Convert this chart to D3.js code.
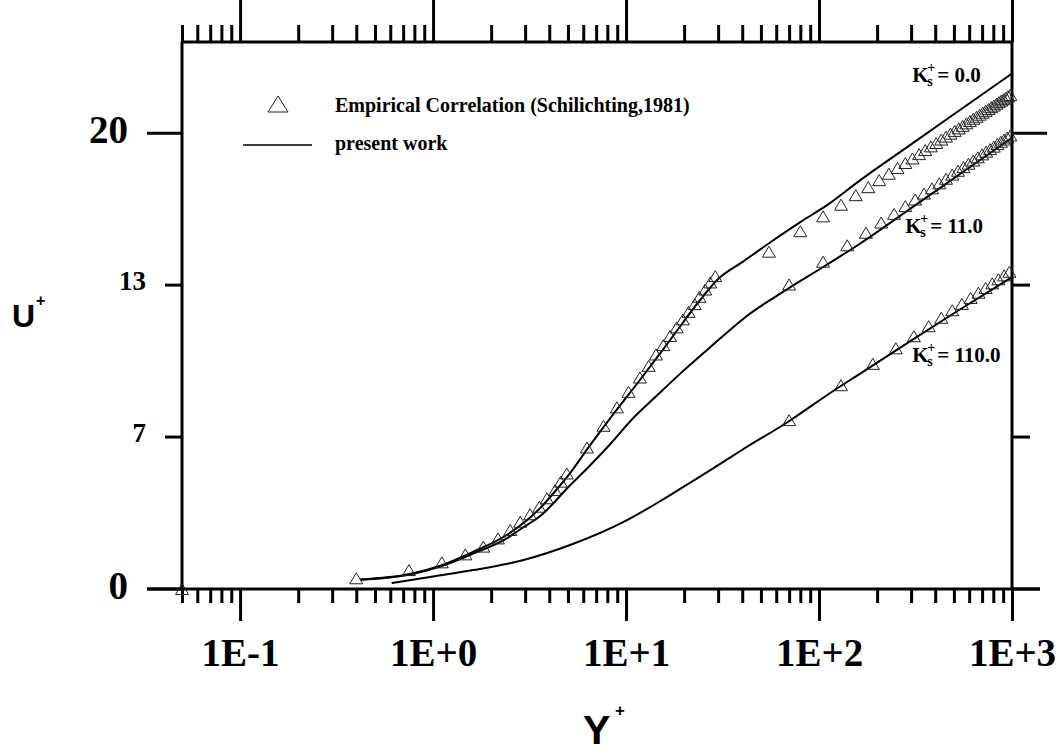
<!DOCTYPE html>
<meta charset="utf-8">
<style>
    body { margin: 0; background: #fff; }
    svg { display: block; }
    .tick line, .frame { stroke: #000; stroke-width: 3px; }
    .num { font-family: "Liberation Serif", "Times New Roman", serif; font-weight: bold; fill: #000; }
    .sans { font-family: "Liberation Sans", Arial, sans-serif; font-weight: bold; fill: #000; }
    .curve { fill: none; stroke: #000; stroke-width: 2px; }
    .tri { fill: none; stroke: #222; stroke-width: 1px; }
</style>
<svg width="1061" height="753"></svg>
<script src="https://d3js.org/d3.v7.min.js"></script>
<script>

    // ---- data ----
    var xMajor = [0.1, 1, 10, 100, 1000],
        xMajorLabels = ["1E-1", "1E+0", "1E+1", "1E+2", "1E+3"];
    var yTicks = [0, 20 / 3, 40 / 3, 20],
        yTickLabels = ["0", "7", "13", "20"];

    // empirical correlation (triangles)
    var empK0_y = [0.05, 0.4, 0.75, 1.11, 1.47, 1.82, 2.17, 2.51, 2.83, 3.18, 3.55, 3.89, 4.29, 4.59, 4.93,
        6.27, 7.64, 8.96, 10.3, 11.8, 13.1, 14.3, 15.6, 16.9, 18.3, 19.7, 21.1, 22.7, 24.0, 25.7, 27.3, 29.0,
        55, 80, 105, 130, 155, 180, 205, 230, 255, 280, 305, 330, 355, 380, 405, 430, 455, 480, 505, 530,
        555, 580, 605, 630, 655, 680, 705, 730, 755, 780, 805, 830, 855, 880, 905, 930, 955, 980];
    var empK0_u = [0, 0.47, 0.83, 1.17, 1.52, 1.86, 2.22, 2.59, 2.95, 3.28, 3.61, 3.98, 4.34, 4.71, 5.07,
        6.21, 7.16, 7.97, 8.65, 9.28, 9.79, 10.29, 10.70, 11.10, 11.48, 11.83, 12.16, 12.5, 12.82, 13.14, 13.45, 13.73,
        14.80, 15.70, 16.35, 16.86, 17.28, 17.63, 17.94, 18.22, 18.47, 18.69, 18.89, 19.08, 19.26, 19.42, 19.57, 19.72,
        19.85, 19.98, 20.10, 20.21, 20.32, 20.43, 20.53, 20.63, 20.72, 20.81, 20.90, 20.98, 21.06, 21.14, 21.21, 21.29,
        21.36, 21.43, 21.49, 21.56, 21.62, 21.68];

    var empK11_y = [70, 105, 140, 175, 210, 245, 280, 315, 350, 385, 420, 455, 490, 525, 560, 595, 630, 665,
        700, 735, 770, 805, 840, 875, 910, 945, 980];
    var empK11_u = [13.36, 14.36, 15.08, 15.63, 16.08, 16.46, 16.80, 17.09, 17.35, 17.58, 17.80, 18.00, 18.18,
        18.35, 18.51, 18.66, 18.80, 18.94, 19.07, 19.19, 19.30, 19.41, 19.52, 19.62, 19.72, 19.81, 19.90];

    var empK110_y = [70, 130, 190, 250, 310, 370, 430, 490, 550, 610, 670, 730, 790, 850, 910, 970];
    var empK110_u = [7.41, 8.94, 9.88, 10.56, 11.09, 11.53, 11.90, 12.23, 12.51, 12.77, 13.00, 13.21, 13.41,
        13.59, 13.76, 13.92];

    // present work (solid lines)
    var pwK0_y = [0.42, 0.76, 1.09, 1.62, 2.41, 3.59, 4.3, 5.2, 6.5, 8.27, 11.8, 16.9, 24.2, 30, 40, 54.8, 80, 110,
        163.6, 300, 500, 1000];
    var pwK0_u = [0.42, 0.66, 1.02, 1.64, 2.37, 3.55, 4.3, 5.15, 6.3, 7.49, 9.17, 10.92, 12.68, 13.6, 14.34, 15.16,
        16.1, 16.84, 17.94, 19.51, 20.83, 22.62];

    var pwK11_y = [0.42, 0.76, 1.09, 1.62, 2.41, 2.83, 3.59, 5.13, 6.39, 8.27, 10.9, 14.5, 19.1, 25.2, 30.8,
        42.3, 69.5, 105.6, 163.6, 300, 500, 1000];
    var pwK11_u = [0.41, 0.64, 0.99, 1.56, 2.22, 2.62, 3.2, 4.55, 5.35, 6.35, 7.5, 8.5, 9.45, 10.35, 11.0,
        11.98, 13.19, 14.14, 15.16, 16.71, 18.02, 19.8];

    var pwK110_y = [0.61, 1.0, 1.62, 2.94, 5.13, 10, 15, 20, 28.4, 39.9, 69.5, 119, 163.6, 300, 500, 1000];
    var pwK110_u = [0.26, 0.55, 0.83, 1.27, 1.93, 3.0, 3.85, 4.5, 5.3, 6.1, 7.35, 8.7, 9.45, 10.9, 12.1, 13.68];

    var ksLabels = ["0.0", "11.0", "110.0"],
        ksLabelAt = [[304, 22.24], [280, 15.63], [304, 9.96]];

    // ---- layout ----
    var svg = d3.select("svg");
    var x = d3.scaleLog().domain([0.05, 1000]).range([182, 1012]),
        y = d3.scaleLinear().domain([0, 24]).range([589, 42]);

    var xMinor = x.ticks().filter(function(v) { return xMajor.indexOf(v) < 0; });

    function zip(a, b) { return a.map(function(v, i) { return [v, b[i]]; }); }

    // frame
    svg.append("line").attr("class", "frame").attr("x1", x.range()[0]).attr("x2", x.range()[1])
        .attr("y1", y(24)).attr("y2", y(24));
    svg.append("line").attr("class", "frame").attr("x1", x.range()[0]).attr("x2", x.range()[0])
        .attr("y1", y(24)).attr("y2", y(0));
    svg.append("line").attr("class", "frame").attr("x1", x.range()[1]).attr("x2", x.range()[1])
        .attr("y1", y(24)).attr("y2", y(0));
    svg.append("line").attr("class", "frame").attr("x1", 147).attr("x2", 1040)
        .attr("y1", y(0)).attr("y2", y(0));

    // bottom axis
    svg.append("g").attr("transform", "translate(0," + y(0) + ")")
        .call(d3.axisBottom(x).tickValues(xMinor).tickSize(14).tickFormat(""));
    var bottomMajor = svg.append("g").attr("transform", "translate(0," + y(0) + ")")
        .call(d3.axisBottom(x).tickValues(xMajor).tickSize(32).tickPadding(17)
            .tickFormat(function(d, i) { return xMajorLabels[i]; }));
    bottomMajor.selectAll("text").attr("class", "num").style("font-size", "39px");

    // top axis
    svg.append("g").attr("transform", "translate(0," + y(24) + ")")
        .call(d3.axisTop(x).tickValues(xMinor).tickSize(17).tickFormat(""));
    svg.append("g").attr("transform", "translate(0," + y(24) + ")")
        .call(d3.axisTop(x).tickValues(xMajor).tickSize(44).tickFormat(""));

    svg.selectAll(".domain").remove();

    // left / right axes
    var yt = svg.append("g");
    yTicks.forEach(function(v, i) {
        var big = (i === 0 || i === 3);
        var len = big ? 35 : 17;
        yt.append("line").attr("class", "frame")
            .attr("x1", x.range()[0] - len).attr("x2", x.range()[0]).attr("y1", y(v)).attr("y2", y(v));
        yt.append("line").attr("class", "frame")
            .attr("x1", x.range()[1]).attr("x2", x.range()[1] + (big ? (i === 0 ? 28 : 35) : 18))
            .attr("y1", y(v)).attr("y2", y(v));
        yt.append("text").attr("class", "num")
            .attr("x", x.range()[0] - len - 19)
            .attr("y", y(v) - 4)
            .attr("text-anchor", "end")
            .attr("dominant-baseline", "central")
            .style("font-size", big ? "39px" : "27px")
            .text(yTickLabels[i]);
    });

    // axis titles
    svg.append("text").attr("class", "sans").attr("x", 12).attr("y", 327).style("font-size", "32px").text("U");
    svg.append("text").attr("class", "sans").attr("x", 36).attr("y", 306).style("font-size", "16px").text("+");
    svg.append("text").attr("class", "sans").attr("x", 583).attr("y", 744).style("font-size", "41px").text("Y");
    svg.append("text").attr("class", "sans").attr("x", 615).attr("y", 716).style("font-size", "17px").text("+");

    // curves
    var line = d3.line()
        .x(function(d) { return x(d[0]); })
        .y(function(d) { return y(d[1]); })
        .curve(d3.curveMonotoneX);

    [zip(pwK0_y, pwK0_u), zip(pwK11_y, pwK11_u), zip(pwK110_y, pwK110_u)].forEach(function(s) {
        svg.append("path").attr("class", "curve").attr("d", line(s));
    });

    // triangles
    function tri(w, h) {
        return "M0," + (-h / 2) + "L" + (w / 2) + "," + (h / 2) + "L" + (-w / 2) + "," + (h / 2) + "Z";
    }
    var emp = zip(empK0_y, empK0_u).concat(zip(empK11_y, empK11_u), zip(empK110_y, empK110_u));
    svg.append("g").selectAll("path")
        .data(emp)
        .enter().append("path")
        .attr("class", "tri")
        .attr("d", tri(13, 11))
        .attr("transform", function(d) { return "translate(" + x(d[0]) + "," + y(d[1]) + ")"; });

    // legend
    svg.append("path").attr("class", "tri").attr("d", tri(20, 16)).attr("transform", "translate(278,104)");
    svg.append("text").attr("class", "num").attr("x", 335).attr("y", 112).style("font-size", "20px")
        .text("Empirical Correlation (Schilichting,1981)");
    svg.append("line").attr("x1", 243).attr("x2", 312).attr("y1", 145).attr("y2", 145)
        .attr("stroke", "#000").attr("stroke-width", 1.5);
    svg.append("text").attr("class", "num").attr("x", 335).attr("y", 150).style("font-size", "20px")
        .text("present work");

    // Ks+ labels (K with stacked subscript s and superscript +)
    ksLabels.forEach(function(t, i) {
        var px = x(ksLabelAt[i][0]), py = y(ksLabelAt[i][1]);
        var g = svg.append("g").attr("class", "num");
        g.append("text").attr("x", px).attr("y", py).style("font-size", "21px").text("K");
        g.append("text").attr("x", px + 15).attr("y", py + 4).style("font-size", "14px").text("s");
        g.append("text").attr("x", px + 15).attr("y", py - 10).style("font-size", "14px").text("+");
        g.append("text").attr("x", px + 25).attr("y", py).style("font-size", "21px").text("= " + t);
    });

</script>
